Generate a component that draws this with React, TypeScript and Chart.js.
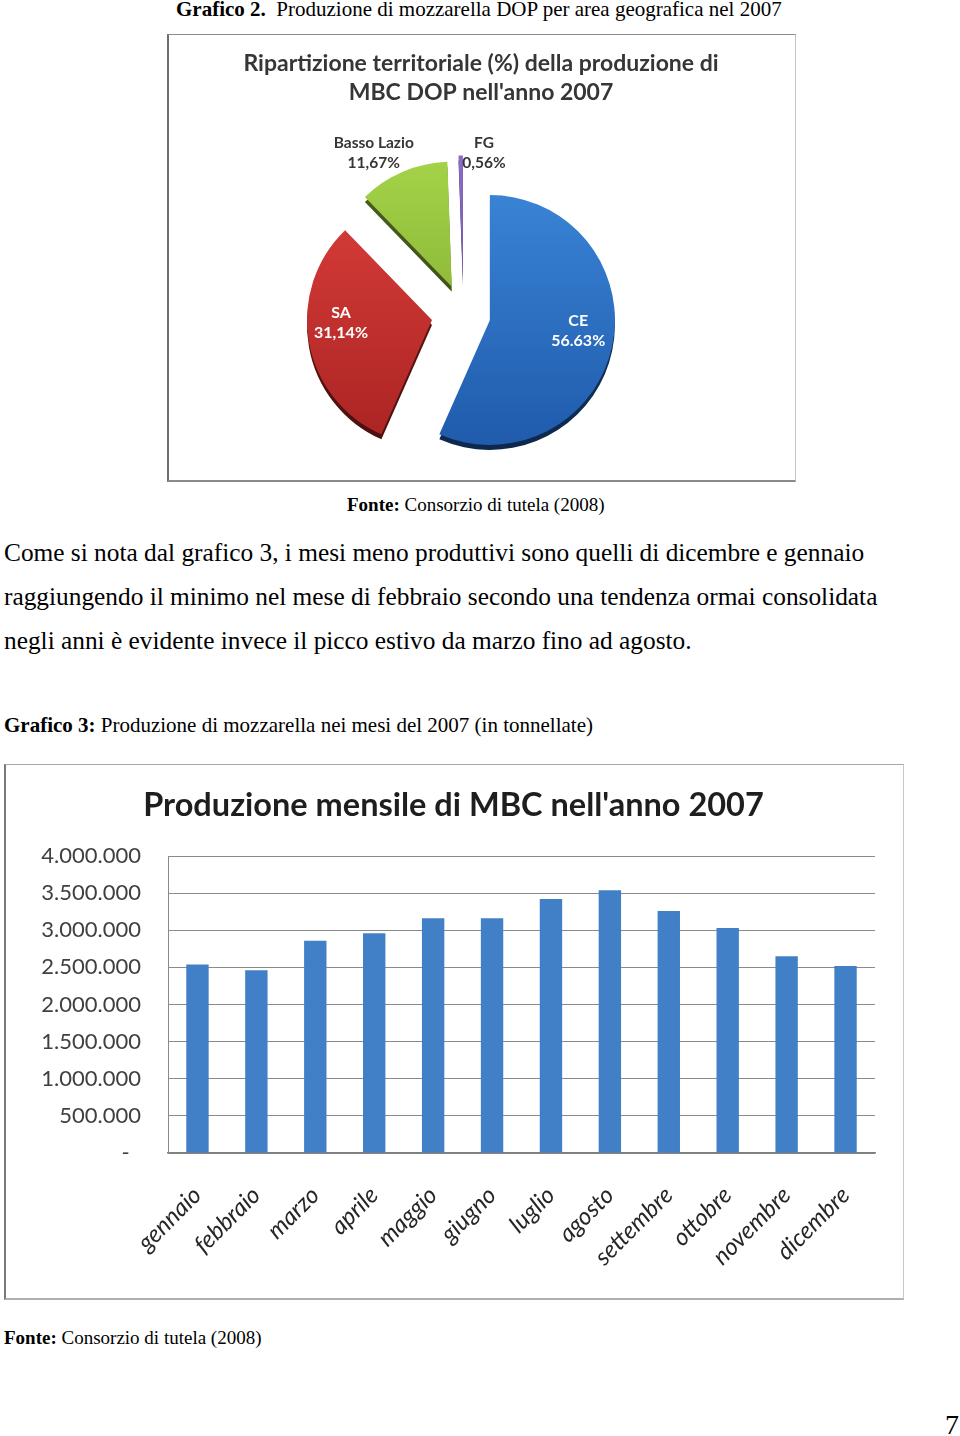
import React, { useEffect, useRef } from 'react';
import { Chart, registerables } from 'chart.js';

Chart.register(...registerables);

// ---------- Data: Grafico 2 (pie) ----------
const pieLabels = ['CE', 'SA', 'Basso Lazio', 'FG'];
const pieShares = [56.63, 31.14, 11.67, 0.56];
const pieShareTexts = ['56.63%', '31,14%', '11,67%', '0,56%'];

// ---------- Data: Grafico 3 (bar) ----------
const months = [
  'gennaio', 'febbraio', 'marzo', 'aprile', 'maggio', 'giugno',
  'luglio', 'agosto', 'settembre', 'ottobre', 'novembre', 'dicembre',
];
const monthlyProduction = [
  2540000, 2460000, 2860000, 2960000, 3160000, 3160000,
  3420000, 3540000, 3260000, 3030000, 2650000, 2520000,
];
const yAxisMax = 4000000;
const yAxisStep = 500000;

// ---------- Styles ----------
const pieLight = ['#3C88DA', '#DE403D', '#A8D84C', '#9070C8'];
const pieDark = ['#1F59AA', '#A82321', '#7BA32A', '#6A4CA0'];
const barColor = '#4180C6';

function formatIt(v: number): string {
  if (v === 0) return '-\u00a0\u00a0';
  return String(Math.round(v)).replace(/\B(?=(\d{3})+(?!\d))/g, '.');
}

const pieExplode = {
  id: 'pieExplode',
  beforeDatasetDraw(chart: any, args: any, opts: any) {
    const ctx = chart.ctx;
    const arcs = args.meta.data;
    // depth (3D side) pass
    arcs.forEach((arc: any, i: number) => {
      const mid = (arc.startAngle + arc.endAngle) / 2;
      const d = opts.distances[i];
      ctx.save();
      ctx.filter = 'brightness(45%)';
      ctx.translate(opts.shiftX + Math.cos(mid) * d + opts.depthX, Math.sin(mid) * d + opts.depthY);
      arc.draw(ctx);
      ctx.restore();
    });
    // face pass
    arcs.forEach((arc: any, i: number) => {
      const mid = (arc.startAngle + arc.endAngle) / 2;
      const d = opts.distances[i];
      ctx.save();
      ctx.translate(opts.shiftX + Math.cos(mid) * d, Math.sin(mid) * d);
      arc.draw(ctx);
      ctx.restore();
    });
    return false;
  },
  afterDatasetsDraw(chart: any, _args: any, opts: any) {
    const ctx = chart.ctx;
    const meta = chart.getDatasetMeta(0);
    meta.data.forEach((arc: any, i: number) => {
      const mid = (arc.startAngle + arc.endAngle) / 2;
      const d = opts.distances[i];
      const ax = arc.x + opts.shiftX + Math.cos(mid) * d;
      const ay = arc.y + Math.sin(mid) * d;
      const lp = opts.labels[i];
      const ang = mid + (lp.da * Math.PI) / 180;
      const rr = lp.dist;
      const x = ax + Math.cos(ang) * rr;
      const y = ay + Math.sin(ang) * rr;
      ctx.save();
      ctx.font = `bold ${lp.size}px Lato, "Open Sans", sans-serif`;
      ctx.fillStyle = lp.color;
      ctx.textAlign = 'center';
      ctx.textBaseline = 'middle';
      ctx.fillText(pieLabels[i], x, y - lp.gap / 2);
      ctx.fillText(pieShareTexts[i], x, y + lp.gap / 2);
      ctx.restore();
    });
  },
};

function PieChart() {
  const ref = useRef<HTMLCanvasElement>(null);
  useEffect(() => {
    if (!ref.current) return;
    const chart = new Chart(ref.current, {
      type: 'pie',
      data: {
        labels: pieLabels,
        datasets: [
          {
            data: pieShares,
            backgroundColor: (c: any) => {
              const i = c.dataIndex ?? 0;
              const area = c.chart.chartArea;
              if (!area) return pieDark[i];
              const g = c.chart.ctx.createLinearGradient(0, area.top - 30, 0, area.bottom + 10);
              g.addColorStop(0, pieLight[i]);
              g.addColorStop(1, pieDark[i]);
              return g;
            },
            borderWidth: 0,
            hoverOffset: 0,
            offset: 0,
          } as any,
        ],
      },
      options: {
        animation: false,
        responsive: false,
        layout: { padding: { bottom: 40.6 } },
        plugins: {
          legend: { display: false },
          tooltip: { enabled: false },
          title: {
            display: true,
            text: ['Ripartizione territoriale (%) della produzione di', "MBC DOP nell'anno 2007"],
            color: '#363636',
            font: { family: 'Lato, "Open Sans", sans-serif', size: 23, weight: 'bold', lineHeight: 29 / 23 },
            padding: { top: 14.5, bottom: 81.9 },
          },
          pieExplode: {
            shiftX: -17.5,
            depthX: 0,
            depthY: 5,
            distances: [27, 32, 30, 34],
            labels: [
              { dist: 89, da: -4.9, color: '#ffffff', size: 16, gap: 20 },
              { dist: 91, da: 8.5, color: '#ffffff', size: 16, gap: 20 },
              { dist: 155, da: -7.2, color: '#363636', size: 15.5, gap: 20 },
              { dist: 129, da: 10.4, color: '#363636', size: 15.5, gap: 20 },
            ],
          },
        } as any,
      },
      plugins: [pieExplode as any],
    });
    return () => chart.destroy();
  }, []);
  return (
    <canvas
      ref={ref}
      width={624}
      height={445}
      style={{ position: 'absolute', left: 169, top: 35, width: 624, height: 445 }}
    />
  );
}

function BarChart() {
  const ref = useRef<HTMLCanvasElement>(null);
  useEffect(() => {
    if (!ref.current) return;
    const chart = new Chart(ref.current, {
      type: 'bar',
      data: {
        labels: months,
        datasets: [
          {
            data: monthlyProduction,
            backgroundColor: barColor,
            barPercentage: 0.38,
            categoryPercentage: 1,
          },
        ],
      },
      options: {
        animation: false,
        responsive: false,
        layout: { padding: { left: 26, right: 26, top: 0, bottom: 0 } },
        plugins: {
          legend: { display: false },
          tooltip: { enabled: false },
          title: {
            display: true,
            text: "Produzione mensile di MBC nell'anno 2007",
            color: '#1e1e1e',
            font: { family: 'Lato, "Open Sans", sans-serif', size: 32.5, weight: 'bold', lineHeight: 1.2 },
            padding: { top: 20.5, bottom: 30.5 },
          },
        },
        scales: {
          x: {
            grid: { display: false, drawTicks: false },
            border: { color: '#7f7f7f', width: 1.5 },
            ticks: {
              color: '#262626',
              font: { family: 'Lato, "Open Sans", sans-serif', size: 24, style: 'italic' },
              minRotation: 45,
              maxRotation: 45,
              autoSkip: false,
              padding: 28,
            },
            afterFit: (s: any) => {
              s.height = 144;
            },
          },
          y: {
            min: 0,
            max: yAxisMax,
            ticks: {
              stepSize: yAxisStep,
              callback: (v: any) => formatIt(Number(v)),
              color: '#404040',
              font: { family: 'Lato, "Open Sans", sans-serif', size: 22 },
              padding: 27,
            },
            grid: { color: '#8a8a8a', drawTicks: false },
            border: { color: '#8a8a8a' },
            afterFit: (s: any) => {
              s.width = 136;
            },
          },
        } as any,
      },
    });
    return () => chart.destroy();
  }, []);
  return (
    <canvas
      ref={ref}
      width={895}
      height={531}
      style={{ position: 'absolute', left: 6, top: 766, width: 895, height: 531 }}
    />
  );
}

const txt = (left: number, top: number, size: number, extra: any = {}) => ({
  position: 'absolute' as const,
  left,
  top,
  fontSize: size,
  lineHeight: `${size}px`,
  whiteSpace: 'nowrap' as const,
  ...extra,
});

export default function App() {
  return (
    <div
      style={{
        position: 'absolute',
        left: 0,
        top: 0,
        width: 960,
        height: 1436,
        background: '#fff',
        fontFamily: '"Liberation Serif", "Times New Roman", serif',
        color: '#000',
        overflow: 'hidden',
      }}
    >
      <div style={txt(176, -1, 21)}>
        <b>Grafico 2.</b>&nbsp; Produzione di mozzarella DOP per area geografica nel 2007
      </div>

      <div
        style={{
          position: 'absolute',
          left: 167,
          top: 34,
          width: 629,
          height: 448,
          boxSizing: 'border-box',
          borderLeft: '2px solid #6e6e6e',
          borderTop: '1px solid #8c8c8c',
          borderRight: '1px solid #c4c4c4',
          borderBottom: '2px solid #8a8a8a',
        }}
      />
      <PieChart />

      <div style={txt(347, 495.1, 19)}>
        <b>Fonte:</b> Consorzio di tutela (2008)
      </div>

      <div style={txt(4, 540, 25.35)}>
        Come si nota dal grafico 3, i mesi meno produttivi sono quelli di dicembre e gennaio
      </div>
      <div style={txt(4, 584, 25.35)}>
        raggiungendo il minimo nel mese di febbraio secondo una tendenza ormai consolidata
      </div>
      <div style={txt(4, 628, 25.35)}>
        negli anni è evidente invece il picco estivo da marzo fino ad agosto.
      </div>

      <div style={txt(4, 714.7, 21)}>
        <b>Grafico 3:</b> Produzione di mozzarella nei mesi del 2007 (in tonnellate)
      </div>

      <div
        style={{
          position: 'absolute',
          left: 4,
          top: 764,
          width: 900,
          height: 536,
          boxSizing: 'border-box',
          borderLeft: '2px solid #7a7a7a',
          borderTop: '1px solid #a8a8a8',
          borderRight: '1px solid #c8c8c8',
          borderBottom: '2px solid #b0b0b0',
        }}
      />
      <BarChart />

      <div style={txt(4, 1328.1, 19)}>
        <b>Fonte:</b> Consorzio di tutela (2008)
      </div>

      <div style={txt(945, 1410.5, 28)}>7</div>
    </div>
  );
}
